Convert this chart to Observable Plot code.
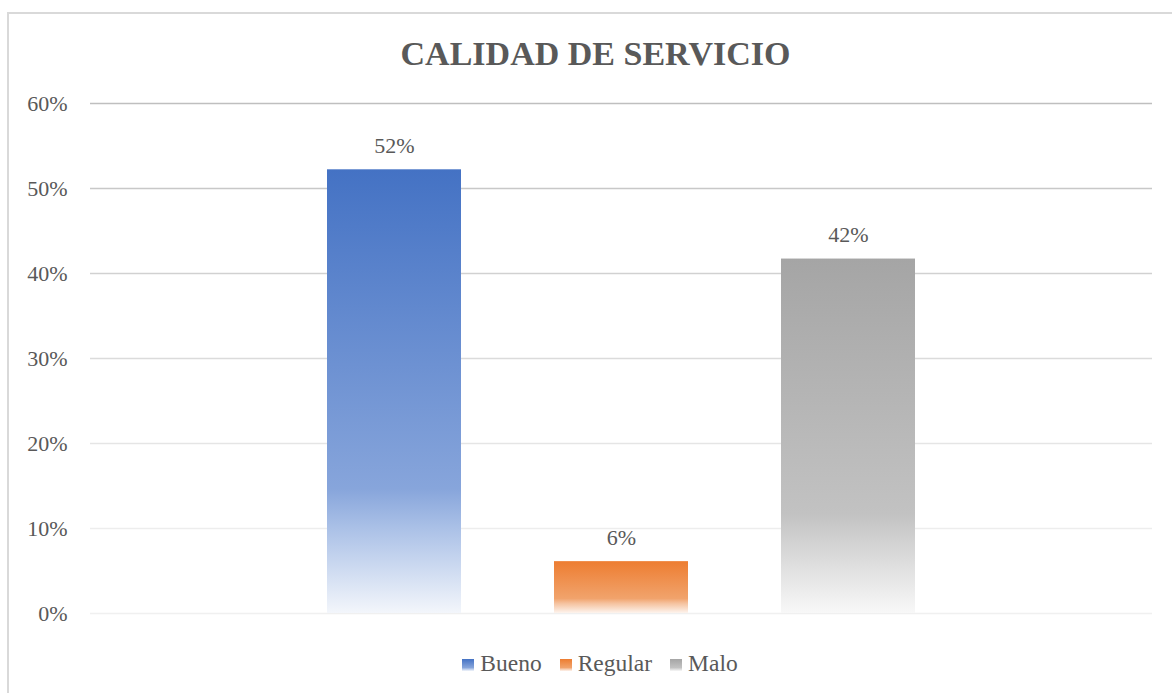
<!DOCTYPE html>
<html>
<head>
<meta charset="utf-8">
<script src="https://cdn.jsdelivr.net/npm/d3@7"></script>
<script src="https://cdn.jsdelivr.net/npm/@observablehq/plot@0.6"></script>
<style>
  html, body { margin: 0; padding: 0; background: #fff; }
  #wrap { position: relative; width: 1172px; height: 693px; overflow: hidden; background: #fff; color: #595959; }
  #border { position: absolute; left: 7px; top: 12px; width: 1200px; height: 720px;
            border: 2px solid #d9d9d9; box-sizing: border-box; }
  #title { position: absolute; left: 0; width: 1191px; top: 37px; text-align: center;
           font-size: 34px; line-height: 34px; font-weight: bold; }
  #chart { position: absolute; left: 0; top: 0; }
  #legend { position: absolute; left: 0; width: 1200px; top: 652px; display: flex; justify-content: center;
            font-size: 23.5px; line-height: 23.5px; }
  .item { display: flex; align-items: center; margin: 0 9px; }
  .sw { width: 12px; height: 12px; margin-right: 6px; margin-top: 3px; }
</style>
</head>
<body>
<div id="wrap">
  <div id="border"></div>
  <div id="title" style="font-family:'Liberation Serif'"></div>
  <div id="chart"></div>
  <div id="legend" style="font-family:'Liberation Serif'"></div>
</div>
<script>
const FONT = "Liberation Serif";
const title = "CALIDAD DE SERVICIO";
const categories = ["Bueno", "Regular", "Malo"];
const values = [0.522, 0.061, 0.417];
const labels = ["52%", "6%", "42%"];
const gradStops = [
  ["#4472C4", "#87A5DB", "#ABC1E7", "#F3F6FB"],
  ["#ED7D31", "#F1A36C", "#F5C19D", "#FDF4EE"],
  ["#A5A5A5", "#C2C2C2", "#D4D4D4", "#F8F8F8"]
];
const stopOffsets = [0, 0.72, 0.81, 1];
const yTicks = [0, 0.1, 0.2, 0.3, 0.4, 0.5, 0.6];
const gridColors = ["#f0f0f0", "#ededed", "#e5e5e5", "#dbdbdb", "#d1d1d1", "#c8c8c8", "#bfbfbf"];

document.getElementById("title").textContent = title;

const data = categories.map((c, i) => ({cat: c, value: values[i], label: labels[i], grad: `url(#grad${i})`}));
const grid = yTicks.map((t, i) => ({t, color: gridColors[i]}));

function defsMark() {
  const ns = "http://www.w3.org/2000/svg";
  const g = document.createElementNS(ns, "g");
  const defs = document.createElementNS(ns, "defs");
  gradStops.forEach((stops, i) => {
    const lg = document.createElementNS(ns, "linearGradient");
    lg.setAttribute("id", `grad${i}`);
    lg.setAttribute("x1", "0"); lg.setAttribute("y1", "0");
    lg.setAttribute("x2", "0"); lg.setAttribute("y2", "1");
    stops.forEach((c, j) => {
      const s = document.createElementNS(ns, "stop");
      s.setAttribute("offset", stopOffsets[j]);
      s.setAttribute("stop-color", c);
      lg.appendChild(s);
    });
    defs.appendChild(lg);
  });
  g.appendChild(defs);
  return g;
}

const plot = Plot.plot({
  width: 1172,
  height: 693,
  marginTop: 103,
  marginBottom: 80,
  marginLeft: 90,
  marginRight: 20,
  style: {fontFamily: FONT, fontSize: "22px", color: "#595959", background: "transparent"},
  x: {type: "band", domain: categories, paddingInner: 0.41, paddingOuter: 1.044, axis: null},
  y: {domain: [0, 0.6], ticks: yTicks, tickFormat: d3.format(".0%"), tickSize: 0, tickPadding: 23, label: null},
  color: {type: "identity"},
  marks: [
    defsMark,
    Plot.ruleY(grid, {y: "t", stroke: "color", strokeWidth: 1.5}),
    Plot.barY(data, {x: "cat", y: "value", fill: "grad"}),
    Plot.axisY({ticks: yTicks, tickFormat: d3.format(".0%"), tickSize: 0, tickPadding: 23, label: null, fontSize: 22, fontFamily: FONT, fill: "#595959"}),
    Plot.text(data, {x: "cat", y: "value", text: "label", lineAnchor: "bottom", dy: -17, fill: "#595959", fontSize: 22, fontFamily: FONT})
  ]
});
document.getElementById("chart").appendChild(plot);

const legend = document.getElementById("legend");
categories.forEach((c, i) => {
  const item = document.createElement("div");
  item.className = "item";
  const sw = document.createElement("div");
  sw.className = "sw";
  sw.style.background = `linear-gradient(to bottom, ${gradStops[i][0]} 0%, ${gradStops[i][1]} 72%, ${gradStops[i][2]} 81%, ${gradStops[i][3]} 100%)`;
  const tx = document.createElement("span");
  tx.textContent = c;
  item.appendChild(sw);
  item.appendChild(tx);
  legend.appendChild(item);
});
</script>
</body>
</html>
